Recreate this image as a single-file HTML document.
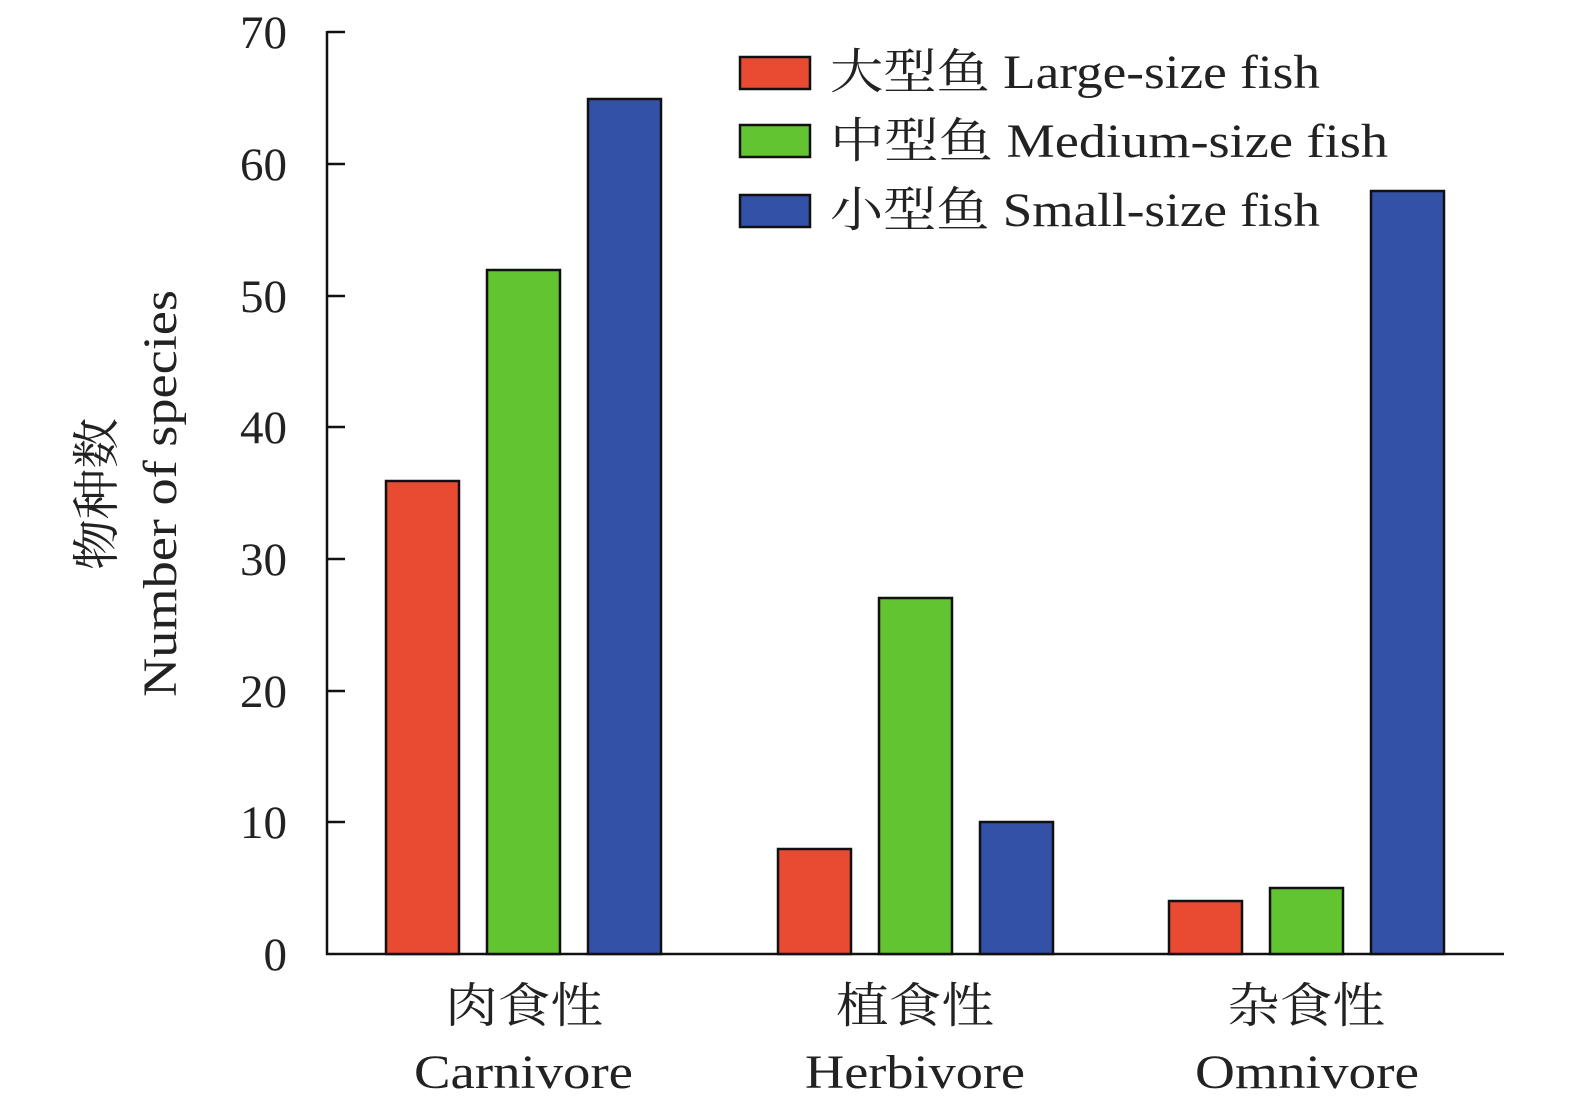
<!DOCTYPE html>
<html><head><meta charset="utf-8"><style>
html,body{margin:0;padding:0;background:#fff;}
svg text{font-family:"Liberation Serif","Noto Serif CJK SC",serif;fill:#222;}
</style></head><body>
<svg width="1575" height="1111" viewBox="0 0 1575 1111" xmlns="http://www.w3.org/2000/svg">
<g stroke="#111" stroke-width="2.5" fill="none">
<line x1="327" y1="31" x2="327" y2="955"/>
<line x1="326" y1="954" x2="1504" y2="954"/>
<line x1="327" y1="32" x2="345" y2="32"/>
<line x1="327" y1="164" x2="345" y2="164"/>
<line x1="327" y1="296" x2="345" y2="296"/>
<line x1="327" y1="427" x2="345" y2="427"/>
<line x1="327" y1="559" x2="345" y2="559"/>
<line x1="327" y1="691" x2="345" y2="691"/>
<line x1="327" y1="822" x2="345" y2="822"/>
</g>
<g font-size="47" text-anchor="end">
<text x="287" y="48">70</text>
<text x="287" y="180">60</text>
<text x="287" y="312">50</text>
<text x="287" y="443">40</text>
<text x="287" y="575">30</text>
<text x="287" y="707">20</text>
<text x="287" y="838">10</text>
<text x="287" y="970">0</text>
</g>
<g stroke="#111" stroke-width="2.5">
<rect x="386" y="481" width="73" height="473" fill="#e84a32"/>
<rect x="487" y="270" width="73" height="684" fill="#62c431"/>
<rect x="588" y="99" width="73" height="855" fill="#3451a8"/>
<rect x="778" y="849" width="73" height="105" fill="#e84a32"/>
<rect x="879" y="598" width="73" height="356" fill="#62c431"/>
<rect x="980" y="822" width="73" height="132" fill="#3451a8"/>
<rect x="1169" y="901" width="73" height="53" fill="#e84a32"/>
<rect x="1270" y="888" width="73" height="66" fill="#62c431"/>
<rect x="1371" y="191" width="73" height="763" fill="#3451a8"/>
<rect x="740" y="57" width="70" height="32" fill="#e84a32"/>
<rect x="740" y="125" width="70" height="32" fill="#62c431"/>
<rect x="740" y="195" width="70" height="32" fill="#3451a8"/>
</g>
<g font-size="48">
<text x="830" y="88" textLength="490" lengthAdjust="spacingAndGlyphs">大型鱼 Large-size fish</text>
<text x="830" y="157" textLength="558" lengthAdjust="spacingAndGlyphs">中型鱼 Medium-size fish</text>
<text x="830" y="226" textLength="490" lengthAdjust="spacingAndGlyphs">小型鱼 Small-size fish</text>
</g>
<g font-size="48">
<text x="445" y="1022" textLength="158" lengthAdjust="spacingAndGlyphs">肉食性</text>
<text x="414" y="1088" textLength="219" lengthAdjust="spacingAndGlyphs">Carnivore</text>
<text x="836" y="1022" textLength="158" lengthAdjust="spacingAndGlyphs">植食性</text>
<text x="805" y="1088" textLength="220" lengthAdjust="spacingAndGlyphs">Herbivore</text>
<text x="1227" y="1022" textLength="158" lengthAdjust="spacingAndGlyphs">杂食性</text>
<text x="1195" y="1088" textLength="224" lengthAdjust="spacingAndGlyphs">Omnivore</text>
</g>
<g font-size="48">
<text transform="translate(113,570) rotate(-90)" textLength="152" lengthAdjust="spacingAndGlyphs">物种数</text>
<text transform="translate(176,697) rotate(-90)" textLength="407" lengthAdjust="spacingAndGlyphs">Number of species</text>
</g>
</svg>
</body></html>
